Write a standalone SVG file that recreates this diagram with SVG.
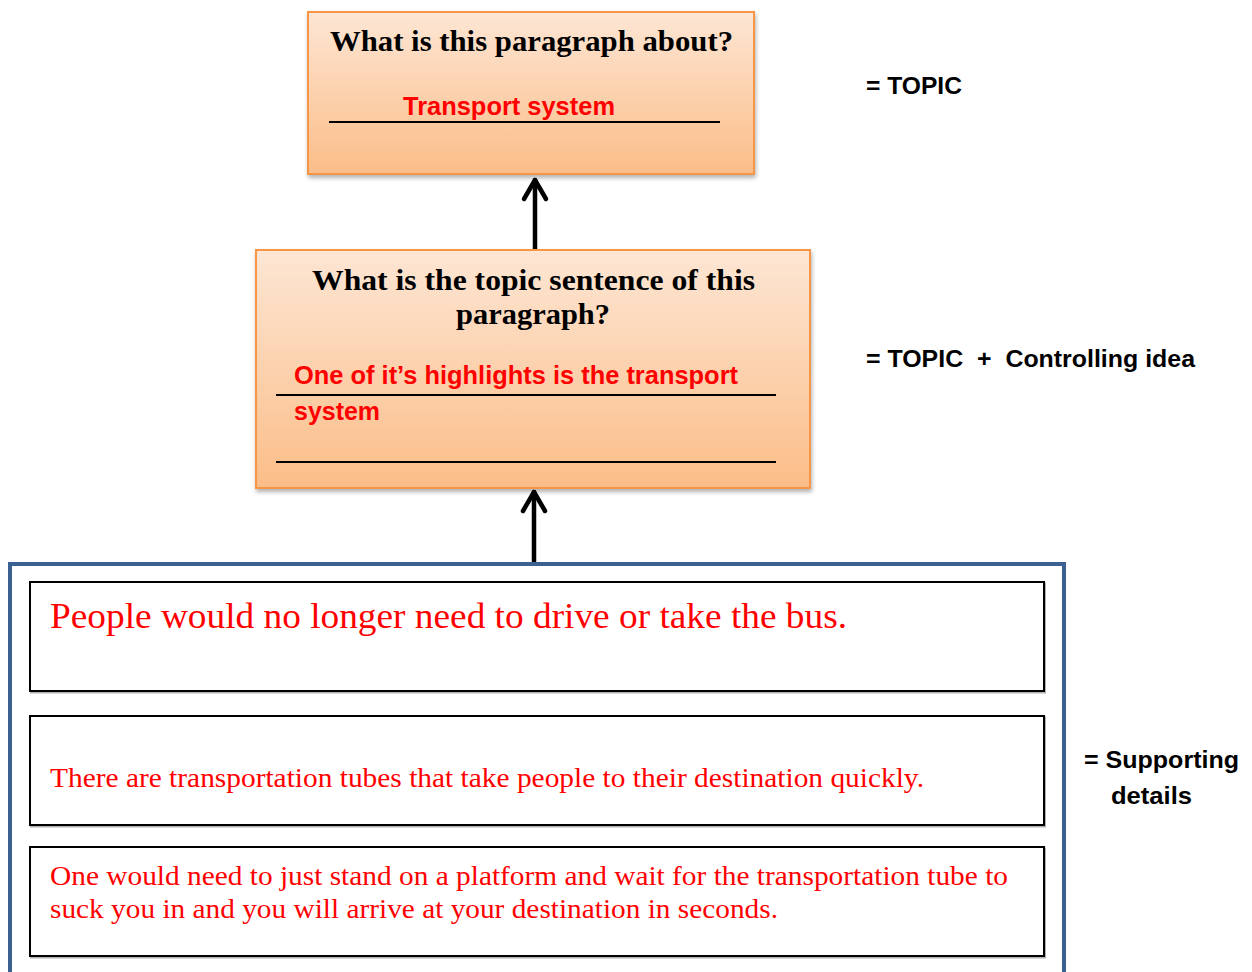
<svg xmlns="http://www.w3.org/2000/svg" width="1252" height="972" viewBox="0 0 1252 972">
<style>
.q{font-family:"Liberation Serif","DejaVu Serif",serif;font-weight:bold;font-size:30px;fill:#000}
.ans{font-family:"Liberation Sans","Open Sans",sans-serif;font-weight:bold;font-size:25px;fill:#ff0000}
.lbl{font-family:"Liberation Sans","Open Sans",sans-serif;font-weight:bold;font-size:24px;fill:#000}
.det{font-family:"Liberation Serif","Times New Roman",serif;fill:#ff0000}
.ob{fill:url(#og);stroke:#f79646;stroke-width:2;filter:url(#sh)}
.ul{stroke:#000;stroke-width:2}
.ib{fill:#fff;stroke:#000;stroke-width:2;filter:url(#sh2)}
.conn{stroke:#000;stroke-width:4.5;fill:none;stroke-linecap:round;stroke-linejoin:round}
</style>
<defs>
<linearGradient id="og" x1="0" y1="0" x2="0" y2="1">
<stop offset="0" stop-color="#fde6d4"/>
<stop offset="1" stop-color="#fbbd88"/>
</linearGradient>
<filter id="sh" x="-5%" y="-5%" width="110%" height="115%">
<feDropShadow dx="1" dy="3" stdDeviation="2" flood-color="#000" flood-opacity="0.3"/>
</filter>
<filter id="sh2" x="-2%" y="-5%" width="104%" height="110%">
<feDropShadow dx="1" dy="1.5" stdDeviation="0.6" flood-color="#000" flood-opacity="0.3"/>
</filter>
</defs>
<rect width="1252" height="972" fill="#fff"/>

<g id="connectors">
<line class="conn" x1="535" y1="249" x2="535" y2="180"/>
<polyline class="conn" points="524,199 535,180 546,199"/>
<line class="conn" x1="534" y1="563" x2="534" y2="492"/>
<polyline class="conn" points="523,511 534,492 545,511"/>
</g>

<g id="topic-box">
<rect class="ob" x="308" y="12" width="446" height="162"/>
<text class="q" x="531.5" y="51" text-anchor="middle" textLength="403" lengthAdjust="spacingAndGlyphs">What is this paragraph about?</text>
<line class="ul" x1="329" y1="122" x2="720" y2="122"/>
<text class="ans" x="403" y="115" textLength="212" lengthAdjust="spacingAndGlyphs">Transport system</text>
</g>

<g id="topic-sentence-box">
<rect class="ob" x="256" y="250" width="554" height="238"/>
<text class="q" x="533.5" y="290" text-anchor="middle" textLength="443" lengthAdjust="spacingAndGlyphs">What is the topic sentence of this</text>
<text class="q" x="533" y="324" text-anchor="middle" textLength="154" lengthAdjust="spacingAndGlyphs">paragraph?</text>
<line class="ul" x1="276" y1="395" x2="776" y2="395"/>
<text class="ans" x="294" y="384" textLength="444" lengthAdjust="spacingAndGlyphs">One of it’s highlights is the transport</text>
<text class="ans" x="294" y="420" textLength="86" lengthAdjust="spacingAndGlyphs">system</text>
<line class="ul" x1="276" y1="462" x2="776" y2="462"/>
</g>

<g id="supporting-details">
<rect x="10" y="564" width="1054" height="430" fill="none" stroke="#3b6192" stroke-width="4"/>
<g id="detail-1">
<rect class="ib" x="30" y="582" width="1014" height="109"/>
<text class="det" x="50" y="628" font-size="36" textLength="797" lengthAdjust="spacingAndGlyphs">People would no longer need to drive or take the bus.</text>
</g>
<g id="detail-2">
<rect class="ib" x="30" y="716" width="1014" height="109"/>
<text class="det" x="50" y="787" font-size="28" textLength="874" lengthAdjust="spacingAndGlyphs">There are transportation tubes that take people to their destination quickly.</text>
</g>
<g id="detail-3">
<rect class="ib" x="30" y="847" width="1014" height="109"/>
<text class="det" x="50" y="885" font-size="28" textLength="958" lengthAdjust="spacingAndGlyphs">One would need to just stand on a platform and wait for the transportation tube to</text>
<text class="det" x="50" y="918" font-size="28" textLength="728" lengthAdjust="spacingAndGlyphs">suck you in and you will arrive at your destination in seconds.</text>
</g>
</g>

<g id="labels">
<text class="lbl" x="866" y="94" textLength="96" lengthAdjust="spacingAndGlyphs">= TOPIC</text>
<text class="lbl" x="866" y="367" textLength="329" lengthAdjust="spacingAndGlyphs" xml:space="preserve">= TOPIC  +  Controlling idea</text>
<text class="lbl" x="1084" y="768" textLength="155" lengthAdjust="spacingAndGlyphs">= Supporting</text>
<text class="lbl" x="1111" y="804" textLength="81" lengthAdjust="spacingAndGlyphs">details</text>
</g>
</svg>
